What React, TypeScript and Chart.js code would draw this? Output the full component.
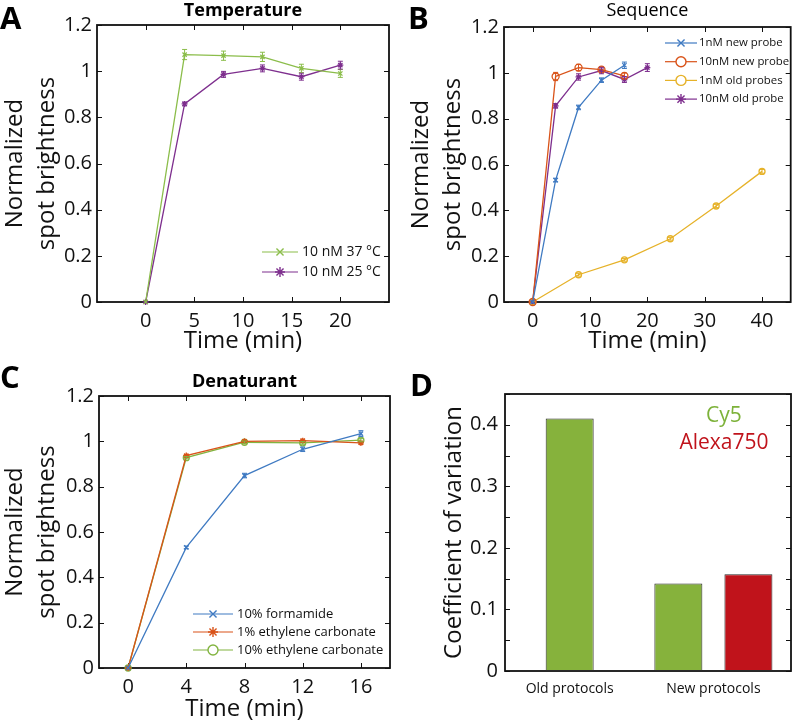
import React, { useEffect, useRef } from 'react';
import { Chart, registerables } from 'chart.js';
import { drawPoint } from 'chart.js/helpers';

Chart.register(...registerables);

const FONT = '"Open Sans", "Noto Sans", sans-serif';

// ---------- Panel A: Temperature ----------
const tempTimes = [0, 4, 8, 12, 16, 20];
const temp37 = [0, 1.072, 1.067, 1.062, 1.012, 0.99];
const temp37Err = [0, 0.022, 0.02, 0.02, 0.018, 0.017];
const temp25 = [0, 0.858, 0.986, 1.012, 0.976, 1.026];
const temp25Err = [0, 0.008, 0.013, 0.015, 0.015, 0.017];
const tempXTicks = [0, 5, 10, 15, 20];
const tempXLabels = ['0', '5', '10', '15', '20'];

// ---------- Panel B: Sequence ----------
const newProbeTimes = [0, 4, 8, 12, 16];
const newProbe1nM = [0, 0.532, 0.849, 0.968, 1.033];
const newProbe1nMErr = [0, 0.008, 0.01, 0.01, 0.014];
const newProbe10nM = [0, 0.984, 1.023, 1.014, 0.987];
const newProbe10nMErr = [0, 0.018, 0.014, 0.012, 0.012];
const oldProbe1nMTimes = [0, 8, 16, 24, 32, 40];
const oldProbe1nM = [0, 0.119, 0.184, 0.276, 0.419, 0.57];
const oldProbe1nMErr = [0, 0.006, 0.006, 0.006, 0.007, 0.008];
const oldProbe10nMTimes = [0, 4, 8, 12, 16, 20];
const oldProbe10nM = [0, 0.856, 0.982, 1.01, 0.971, 1.023];
const oldProbe10nMErr = [0, 0.01, 0.014, 0.014, 0.013, 0.017];
const seqXTicks = [0, 10, 20, 30, 40];
const seqXLabels = ['0', '10', '20', '30', '40'];

// ---------- Panel C: Denaturant ----------
const denTimes = [0, 4, 8, 12, 16];
const formamide10 = [0, 0.532, 0.849, 0.965, 1.034];
const formamide10Err = [0, 0.006, 0.01, 0.01, 0.013];
const ethCarb1 = [0, 0.937, 1.0, 1.003, 0.993];
const ethCarb1Err = [0, 0.005, 0.005, 0.006, 0.006];
const ethCarb10 = [0, 0.928, 0.996, 0.993, 1.005];
const ethCarb10Err = [0, 0.005, 0.005, 0.006, 0.007];
const denXTicks = [0, 4, 8, 12, 16];
const denXLabels = ['0', '4', '8', '12', '16'];

// shared brightness axis
const brightnessTicks = [0, 0.2, 0.4, 0.6, 0.8, 1, 1.2];
const brightnessLabels = ['0', '0.2', '0.4', '0.6', '0.8', '1', '1.2'];

// ---------- Panel D: Coefficient of variation ----------
const protocolCategories = ['Old protocols', 'New protocols'];
const protocolPositions = [1, 2];
const cy5CV = [0.41, 0.142];
const alexa750CV: (number | null)[] = [null, 0.157];
const cvTicks = [0, 0.05, 0.1, 0.15, 0.2, 0.25, 0.3, 0.35, 0.4, 0.45];
const cvLabels = ['0', '', '0.1', '', '0.2', '', '0.3', '', '0.4', ''];

const GREEN_A = '#8BBD4A';
const PURPLE = '#7E2F8E';
const BLUE = '#3F7AC2';
const ORANGE = '#D95319';
const YELLOW = '#E6B229';
const GREEN_C = '#82B440';
const BAR_GREEN = '#86B23C';
const BAR_RED = '#C0131B';
const INK = '#111111';

const pts = (xs: number[], ys: (number | null)[]) => xs.map((x, i) => ({ x, y: ys[i] }));

// ---------- plugins ----------
const frameTicksPlugin = {
  id: 'frameTicks',
  beforeDatasetsDraw(chart: any, _args: any, opts: any) {
    const { ctx, chartArea: a } = chart;
    const len = 5;
    ctx.save();
    ctx.strokeStyle = INK;
    ctx.lineWidth = 1;
    ctx.beginPath();
    if (opts.xTicks !== false) {
      const xs = chart.scales.x;
      xs.ticks.forEach((t: any) => {
        const px = Math.round(xs.getPixelForValue(t.value)) + 0.5;
        ctx.moveTo(px, a.bottom);
        ctx.lineTo(px, a.bottom - len);
        ctx.moveTo(px, a.top);
        ctx.lineTo(px, a.top + len);
      });
    }
    const ys = chart.scales.y;
    ys.ticks.forEach((t: any) => {
      const py = Math.round(ys.getPixelForValue(t.value)) + 0.5;
      ctx.moveTo(a.left, py);
      ctx.lineTo(a.left + len, py);
      ctx.moveTo(a.right, py);
      ctx.lineTo(a.right - len, py);
    });
    ctx.stroke();
    ctx.lineWidth = 1.8;
    ctx.strokeRect(a.left, a.top, a.right - a.left, a.bottom - a.top);
    ctx.restore();
  },
};

const errorBarsPlugin = {
  id: 'errorBars',
  afterDatasetsDraw(chart: any) {
    const { ctx } = chart;
    const ys = chart.scales.y;
    chart.data.datasets.forEach((ds: any, di: number) => {
      const errs = ds.errors as number[] | undefined;
      if (!errs) return;
      const meta = chart.getDatasetMeta(di);
      ctx.save();
      ctx.strokeStyle = ds.borderColor;
      ctx.lineWidth = 1;
      ctx.beginPath();
      meta.data.forEach((el: any, i: number) => {
        const e = errs[i];
        if (!e) return;
        const v = ds.data[i].y;
        const y1 = ys.getPixelForValue(v + e);
        const y2 = ys.getPixelForValue(v - e);
        const x = el.x;
        ctx.moveTo(x, y1);
        ctx.lineTo(x, y2);
        ctx.moveTo(x - 2.5, y1);
        ctx.lineTo(x + 2.5, y1);
        ctx.moveTo(x - 2.5, y2);
        ctx.lineTo(x + 2.5, y2);
      });
      ctx.stroke();
      ctx.restore();
    });
  },
};

const innerLegendPlugin = {
  id: 'innerLegend',
  afterDraw(chart: any, _args: any, opts: any) {
    if (!opts || !opts.show) return;
    const { ctx, chartArea: a } = chart;
    ctx.save();
    ctx.font = `${opts.fontSize}px ${FONT}`;
    ctx.textBaseline = 'middle';
    ctx.textAlign = 'left';
    chart.data.datasets.forEach((ds: any, i: number) => {
      const y = a.top + opts.top + i * opts.rowHeight;
      const x0 = a.left + opts.left;
      const x1 = x0 + opts.lineLength;
      ctx.strokeStyle = ds.borderColor;
      ctx.lineWidth = 1.2;
      ctx.beginPath();
      ctx.moveTo(x0, y);
      ctx.lineTo(x1, y);
      ctx.stroke();
      ctx.fillStyle = 'rgba(255,255,255,1)';
      ctx.lineWidth = 1.4;
      drawPoint(ctx, { pointStyle: ds.pointStyle, radius: opts.markerRadius, borderWidth: 1.4, rotation: 0 } as any, (x0 + x1) / 2, y);
      ctx.fillStyle = INK;
      ctx.fillText(ds.label, x1 + opts.gap, y);
    });
    ctx.restore();
  },
};

// ---------- config builders ----------
type LineSpec = {
  datasets: any[];
  xMin: number;
  xMax: number;
  xTicks: number[];
  xLabels: string[];
  title: string;
  titleBold: boolean;
  titlePad: { top: number; bottom: number };
  yWidth: number;
  xHeight: number;
  padRight: number;
  yTitlePad: number;
  xTitlePad: number;
  legend: any;
};

function lineConfig(s: LineSpec): any {
  return {
    type: 'line',
    data: { datasets: s.datasets },
    plugins: [frameTicksPlugin, errorBarsPlugin, innerLegendPlugin],
    options: {
      responsive: false,
      maintainAspectRatio: false,
      animation: false,
      events: [],
      devicePixelRatio: 1,
      layout: { padding: { left: 0, right: s.padRight, top: 0, bottom: 0 } },
      elements: { line: { tension: 0 } },
      plugins: {
        legend: { display: false },
        tooltip: { enabled: false },
        title: {
          display: true,
          text: s.title,
          fullSize: false,
          color: '#000',
          font: { family: FONT, size: 18, weight: s.titleBold ? 'bold' : 'normal', lineHeight: 1.2 },
          padding: s.titlePad,
        },
        frameTicks: {},
        innerLegend: s.legend,
      },
      scales: {
        x: {
          type: 'linear',
          min: s.xMin,
          max: s.xMax,
          afterBuildTicks: (sc: any) => {
            sc.ticks = s.xTicks.map((v) => ({ value: v }));
          },
          afterFit: (sc: any) => {
            sc.height = s.xHeight;
          },
          grid: { display: false, drawTicks: false },
          border: { display: false },
          ticks: {
            autoSkip: false,
            maxRotation: 0,
            padding: 7,
            color: INK,
            font: { family: FONT, size: 20 },
            callback: (_v: any, i: number) => s.xLabels[i],
          },
          title: {
            display: true,
            text: 'Time (min)',
            color: INK,
            font: { family: FONT, size: 24, lineHeight: 1.2 },
            padding: { top: 0, bottom: s.xTitlePad },
          },
        },
        y: {
          type: 'linear',
          min: 0,
          max: 1.2,
          afterBuildTicks: (sc: any) => {
            sc.ticks = brightnessTicks.map((v) => ({ value: v }));
          },
          afterFit: (sc: any) => {
            sc.width = s.yWidth;
          },
          grid: { display: false, drawTicks: false },
          border: { display: false },
          ticks: {
            autoSkip: false,
            padding: 5,
            color: INK,
            font: { family: FONT, size: 20 },
            callback: (_v: any, i: number) => brightnessLabels[i],
          },
          title: {
            display: true,
            text: ['Normalized', 'spot brightness'],
            color: INK,
            font: { family: FONT, size: 24, lineHeight: 1.3 },
            padding: { top: s.yTitlePad, bottom: 0 },
          },
        },
      },
    },
  };
}

function series(label: string, xs: number[], ys: number[], errs: number[], color: string, style: string, radius = 3) {
  return {
    label,
    data: pts(xs, ys),
    errors: errs,
    borderColor: color,
    backgroundColor: 'rgba(0,0,0,0)',
    pointBorderColor: color,
    pointBackgroundColor: 'rgba(0,0,0,0)',
    pointStyle: style,
    pointRadius: radius,
    pointBorderWidth: 1.3,
    borderWidth: 1.3,
    clip: false,
  };
}

const configA = () =>
  lineConfig({
    datasets: [
      series('10 nM 37 °C', tempTimes, temp37, temp37Err, GREEN_A, 'crossRot'),
      series('10 nM 25 °C', tempTimes, temp25, temp25Err, PURPLE, 'star'),
    ],
    xMin: -5,
    xMax: 25,
    xTicks: tempXTicks,
    xLabels: tempXLabels,
    title: 'Temperature',
    titleBold: true,
    titlePad: { top: 0, bottom: 3.4 },
    yWidth: 97,
    xHeight: 58,
    padRight: 9,
    yTitlePad: 0,
    xTitlePad: 4,
    legend: { show: true, left: 165, top: 227, rowHeight: 20, lineLength: 36, markerRadius: 5, gap: 4, fontSize: 14 },
  });

const configB = () =>
  lineConfig({
    datasets: [
      series('1nM new probe', newProbeTimes, newProbe1nM, newProbe1nMErr, BLUE, 'crossRot'),
      series('10nM new probe', newProbeTimes, newProbe10nM, newProbe10nMErr, ORANGE, 'circle', 3.5),
      series('1nM old probes', oldProbe1nMTimes, oldProbe1nM, oldProbe1nMErr, YELLOW, 'circle', 3),
      series('10nM old probe', oldProbe10nMTimes, oldProbe10nM, oldProbe10nMErr, PURPLE, 'star'),
    ],
    xMin: -5,
    xMax: 45,
    xTicks: seqXTicks,
    xLabels: seqXLabels,
    title: 'Sequence',
    titleBold: false,
    titlePad: { top: 0, bottom: 5.4 },
    yWidth: 106,
    xHeight: 58,
    padRight: 1,
    yTitlePad: 8,
    xTitlePad: 4,
    legend: { show: true, left: 161, top: 16, rowHeight: 18.7, lineLength: 32, markerRadius: 5, gap: 2, fontSize: 11.4 },
  });

const configC = () =>
  lineConfig({
    datasets: [
      series('10% formamide', denTimes, formamide10, formamide10Err, BLUE, 'crossRot'),
      series('1% ethylene carbonate', denTimes, ethCarb1, ethCarb1Err, ORANGE, 'star'),
      series('10% ethylene carbonate', denTimes, ethCarb10, ethCarb10Err, GREEN_C, 'circle', 3),
    ],
    xMin: -2,
    xMax: 18,
    xTicks: denXTicks,
    xLabels: denXLabels,
    title: 'Denaturant',
    titleBold: true,
    titlePad: { top: 11, bottom: 3.4 },
    yWidth: 99,
    xHeight: 56,
    padRight: 8,
    yTitlePad: 0,
    xTitlePad: 0,
    legend: { show: true, left: 94, top: 218, rowHeight: 18, lineLength: 40, markerRadius: 5, gap: 4, fontSize: 13 },
  });

const configD = (): any => ({
  type: 'bar',
  data: {
    datasets: [
      {
        label: 'Cy5',
        data: pts(protocolPositions, cy5CV),
        backgroundColor: BAR_GREEN,
        borderColor: '#2a2a2a',
        borderWidth: 1,
        borderSkipped: false,
        skipNull: true,
      },
      {
        label: 'Alexa750',
        data: pts(protocolPositions, alexa750CV),
        backgroundColor: BAR_RED,
        borderColor: '#2a2a2a',
        borderWidth: 1,
        borderSkipped: false,
        skipNull: true,
      },
    ],
  },
  plugins: [frameTicksPlugin],
  options: {
    responsive: false,
    maintainAspectRatio: false,
    animation: false,
    events: [],
    devicePixelRatio: 1,
    layout: { padding: { left: 0, right: 5, top: 34, bottom: 0 } },
    categoryPercentage: 0.975,
    barPercentage: 0.69,
    maxBarThickness: 48,
    plugins: {
      legend: { display: false },
      tooltip: { enabled: false },
      title: { display: false },
      frameTicks: { xTicks: false },
    },
    scales: {
      x: {
        type: 'linear',
        min: 0.55,
        max: 2.54,
        offset: false,
        afterBuildTicks: (sc: any) => {
          sc.ticks = protocolPositions.map((v) => ({ value: v }));
        },
        afterFit: (sc: any) => {
          sc.height = 53;
        },
        grid: { display: false, drawTicks: false },
        border: { display: false },
        ticks: {
          autoSkip: false,
          maxRotation: 0,
          padding: 10,
          color: INK,
          font: { family: FONT, size: 14 },
          callback: (_v: any, i: number) => protocolCategories[i],
        },
      },
      y: {
        type: 'linear',
        min: 0,
        max: 0.45,
        afterBuildTicks: (sc: any) => {
          sc.ticks = cvTicks.map((v) => ({ value: v }));
        },
        afterFit: (sc: any) => {
          sc.width = 107;
        },
        grid: { display: false, drawTicks: false },
        border: { display: false },
        ticks: {
          autoSkip: false,
          padding: 7,
          color: INK,
          font: { family: FONT, size: 20 },
          callback: (_v: any, i: number) => cvLabels[i],
        },
        title: {
          display: true,
          text: 'Coefficient of variation',
          color: INK,
          font: { family: FONT, size: 24, lineHeight: 1.2 },
          padding: { top: 42, bottom: 0 },
        },
      },
    },
  },
});

function Panel({ make, left, top, width, height }: { make: () => any; left: number; top: number; width: number; height: number }) {
  const ref = useRef<HTMLCanvasElement>(null);
  useEffect(() => {
    const chart = new Chart(ref.current as HTMLCanvasElement, make());
    return () => chart.destroy();
  }, []);
  return (
    <canvas
      ref={ref}
      width={width}
      height={height}
      style={{ position: 'absolute', left, top, width, height, display: 'block' }}
    />
  );
}

const letterStyle = (left: number, top: number): React.CSSProperties => ({
  position: 'absolute',
  left,
  top,
  fontFamily: FONT,
  fontWeight: 700,
  fontSize: 31,
  lineHeight: '31px',
  color: '#000',
});

export default function App() {
  return (
    <div style={{ position: 'absolute', left: 0, top: 0, width: 796, height: 724, background: '#fff', overflow: 'hidden' }}>
      <Panel make={configA} left={0} top={0} width={398} height={360} />
      <Panel make={configB} left={398} top={0} width={398} height={360} />
      <Panel make={configC} left={0} top={360} width={398} height={364} />
      <Panel make={configD} left={398} top={360} width={398} height={364} />
      <div style={letterStyle(0, 2)}>A</div>
      <div style={letterStyle(408, 2)}>B</div>
      <div style={letterStyle(0, 361)}>C</div>
      <div style={letterStyle(410, 369)}>D</div>
      <div
        style={{
          position: 'absolute',
          left: 664,
          top: 401,
          width: 120,
          textAlign: 'center',
          fontFamily: FONT,
          fontSize: 21,
          lineHeight: '27px',
        }}
      >
        <div style={{ color: '#7DB23A' }}>Cy5</div>
        <div style={{ color: BAR_RED }}>Alexa750</div>
      </div>
    </div>
  );
}
